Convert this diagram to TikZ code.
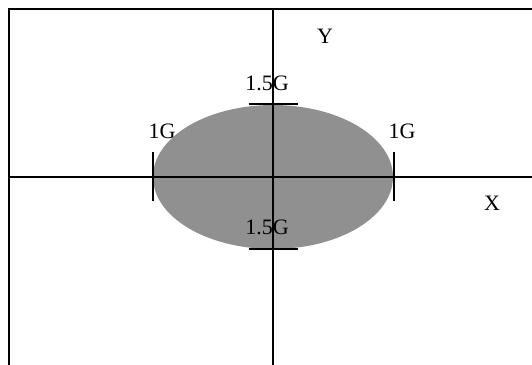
\documentclass[tikz,border=0pt]{standalone}
\usepackage{fontspec}
\setmainfont{Liberation Serif}
\usetikzlibrary{positioning}

\begin{document}
\begin{tikzpicture}[
  x=0.5pt, y=-0.5pt,
  frameline/.style={draw=black, line width=1pt},
  axisline/.style={draw=black, line width=0.9pt},
  tickmark/.style={draw=black, line width=0.9pt},
  gfield/.style={fill=fieldgray, draw=none},
  lbl/.style={font=\fontsize{11}{13}\selectfont, inner sep=0pt},
]
\definecolor{fieldgray}{RGB}{144,144,144}
\useasboundingbox (0,0) rectangle (532,365);
% --- frame corners ---
\coordinate (ftl) at (9,9);
\coordinate (ftr) at (532,9);
\coordinate (fbl) at (9,365);
\draw[frameline] (ftr) -- (ftl) -- (fbl);
% --- g-field ellipse ---
\coordinate (org) at (273,177);
\fill[gfield] (org) ellipse [x radius=120, y radius=72];
% --- axes ---
\coordinate (xl) at (9,177);
\coordinate (xr) at (532,177);
\coordinate (yt) at (273,9);
\coordinate (yb) at (273,365);
\draw[axisline] (xl) -- (xr);
\draw[axisline] (yt) -- (yb);
% --- tick marks ---
\coordinate (tl1) at (153,152); \coordinate (tl2) at (153,201);
\coordinate (tr1) at (394,152); \coordinate (tr2) at (394,201);
\coordinate (tt1) at (249,104); \coordinate (tt2) at (298,104);
\coordinate (tb1) at (249,249); \coordinate (tb2) at (298,249);
\draw[tickmark] (tl1) -- (tl2);
\draw[tickmark] (tr1) -- (tr2);
\draw[tickmark] (tt1) -- (tt2);
\draw[tickmark] (tb1) -- (tb2);
% --- labels ---
\node[lbl] (ylbl) at (325,36) {Y};
\node[lbl] (xlbl) at (492,203) {X};
\node[lbl] (gtop) at (267,83) {1.5G};
\node[lbl] (gbot) at (267,227) {1.5G};
\node[lbl] (gleft) at (162,131) {1G};
\node[lbl] (gright) at (402,131) {1G};
\end{tikzpicture}
\end{document}
